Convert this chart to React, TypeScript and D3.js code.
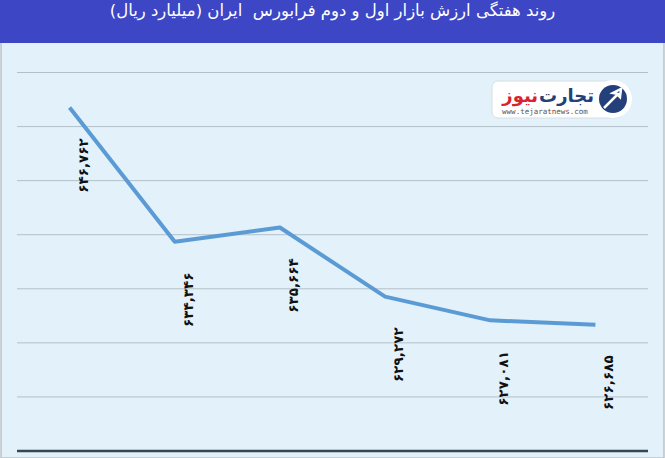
import React, { useEffect, useRef } from "react";
import * as d3 from "d3";

// weekly market value, billion rials
const weeks = ["هفته ۱", "هفته ۲", "هفته ۳", "هفته ۴", "هفته ۵", "هفته ۶"];
const values = [646762, 634346, 635664, 629272, 627081, 626685];
const valueLabels = ["۶۴۶,۷۶۲", "۶۳۴,۳۴۶", "۶۳۵,۶۶۴", "۶۲۹,۲۷۲", "۶۲۷,۰۸۱", "۶۲۶,۶۸۵"];
const gridValues = [620000, 625000, 630000, 635000, 640000, 645000, 650000];
const title = "روند هفتگی ارزش بازار اول و دوم فرابورس  ایران (میلیارد ریال)";

export default function App() {
  const svgRef = useRef<SVGSVGElement>(null);

  useEffect(() => {
    if (!svgRef.current) return;
    const svg = d3.select(svgRef.current);
    svg.selectAll("*").remove();

    const width = 665;
    const height = 458;
    const plot = { left: 17, right: 648, top: 72.5, bottom: 451 };

    // background + header band
    svg.append("rect")
      .attr("x", 1).attr("y", 0)
      .attr("width", width - 2).attr("height", height)
      .attr("fill", "#E3F1FA")
      .attr("stroke", "#B9C3CA").attr("stroke-width", 1.5);
    svg.append("rect")
      .attr("x", 0).attr("y", 0)
      .attr("width", width).attr("height", 43)
      .attr("fill", "#3D46C4");

    svg.append("text")
      .attr("x", width / 2)
      .attr("y", 16)
      .attr("text-anchor", "middle")
      .attr("fill", "#fff")
      .style("font-family", "'DejaVu Sans', sans-serif")
      .style("font-size", "16.5px")
      .style("white-space", "pre")
      .text(title);

    const x = d3.scalePoint<string>()
      .domain(weeks)
      .range([plot.left, plot.right])
      .padding(0.5);

    const y = d3.scaleLinear()
      .domain([615000, 650000])
      .range([plot.bottom, plot.top]);

    // gridlines
    svg.append("g")
      .selectAll("line")
      .data(gridValues)
      .join("line")
      .attr("x1", plot.left).attr("x2", plot.right)
      .attr("y1", (d) => y(d)).attr("y2", (d) => y(d))
      .attr("stroke", "#B4C0C8")
      .attr("stroke-width", 1);

    // bottom axis line
    svg.append("line")
      .attr("x1", plot.left).attr("x2", plot.right)
      .attr("y1", y(615000)).attr("y2", y(615000))
      .attr("stroke", "#37474F")
      .attr("stroke-width", 2.5);

    // logo
    const logo = svg.append("g");
    logo.append("rect")
      .attr("x", 492).attr("y", 81)
      .attr("width", 130).attr("height", 37)
      .attr("rx", 6)
      .attr("fill", "#fff")
      .attr("stroke", "#D6DEE3");
    logo.append("circle")
      .attr("cx", 613).attr("cy", 99).attr("r", 19)
      .attr("fill", "#fff");
    logo.append("circle")
      .attr("cx", 613).attr("cy", 99).attr("r", 14)
      .attr("fill", "#24407A");
    logo.append("path")
      .attr("d", "M604,108 L618,94 L613,93 L621,89 L620,97 L617,94")
      .attr("fill", "none")
      .attr("stroke", "#fff")
      .attr("stroke-width", 2.5);
    const brand1 = logo.append("text")
      .attr("x", 594).attr("y", 102)
      .attr("text-anchor", "end")
      .attr("fill", "#24407A")
      .style("font-family", "'DejaVu Sans', sans-serif")
      .style("font-size", "18px")
      .style("font-weight", "bold")
      .text("تجارت");
    const len1 = (brand1.node() as SVGTextElement).getComputedTextLength();
    logo.append("text")
      .attr("x", 594 - len1 - 1).attr("y", 102)
      .attr("text-anchor", "end")
      .attr("fill", "#D8232F")
      .style("font-family", "'DejaVu Sans', sans-serif")
      .style("font-size", "18px")
      .style("font-weight", "bold")
      .text("نیوز");
    logo.append("text")
      .attr("x", 545).attr("y", 114)
      .attr("text-anchor", "middle")
      .attr("fill", "#555")
      .style("font-family", "'DejaVu Sans Mono', monospace")
      .style("font-size", "7.5px")
      .text("www.tejaratnews.com");

    // line
    const line = d3.line<number>()
      .x((_, i) => x(weeks[i]) as number)
      .y((d) => y(d));

    svg.append("path")
      .datum(values)
      .attr("fill", "none")
      .attr("stroke", "#5B9BD5")
      .attr("stroke-width", 4)
      .attr("stroke-linejoin", "round")
      .attr("d", line);

    // rotated value labels
    svg.append("g")
      .selectAll("text")
      .data(values)
      .join("text")
      .attr("transform", (d, i) => `translate(${(x(weeks[i]) as number) + 13},${y(d) + 58}) rotate(-90)`)
      .attr("text-anchor", "middle")
      .attr("dominant-baseline", "central")
      .attr("fill", "#111")
      .style("font-family", "'DejaVu Sans', sans-serif")
      .style("font-size", "13.5px")
      .style("font-weight", "bold")
      .text((_, i) => valueLabels[i]);
  }, []);

  return (
    <div style={{ position: "fixed", left: 0, top: 0 }}>
      <svg ref={svgRef} width={665} height={458} style={{ display: "block" }} />
    </div>
  );
}
